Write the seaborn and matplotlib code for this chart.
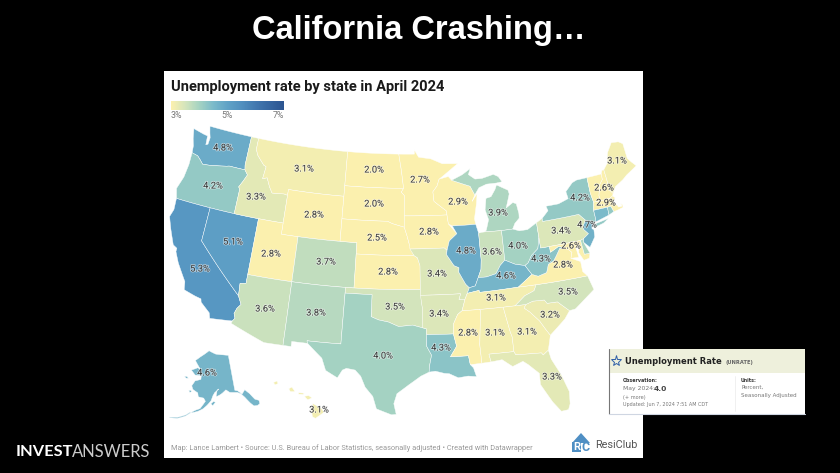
import numpy as np
import seaborn as sns
import matplotlib.pyplot as plt
import matplotlib.patheffects as pe
from matplotlib.patches import Rectangle

# --- values --------------------------------------------------------
states = ['WA', 'OR', 'CA', 'NV', 'ID', 'MT', 'WY', 'UT', 'AZ', 'CO', 'NM', 'ND', 'SD', 'NE', 'KS', 'OK', 'TX',
          'MN', 'IA', 'MO', 'AR', 'LA', 'WI', 'IL', 'MI', 'IN', 'OH', 'KY', 'TN', 'MS', 'AL', 'GA', 'FL', 'SC',
          'NC', 'VA', 'WV', 'PA', 'NY', 'NJ', 'MD', 'NH', 'MA', 'ME', 'AK', 'HI', 'VT', 'CT', 'RI', 'DE']
rates = [4.8, 4.2, 5.3, 5.1, 3.3, 3.1, 2.8, 2.8, 3.6, 3.7, 3.8, 2.0, 2.0, 2.5, 2.8, 3.5, 4.0,
         2.7, 2.8, 3.4, 3.4, 4.3, 2.9, 4.8, 3.9, 3.6, 4.0, 4.6, 3.1, 2.8, 3.1, 3.1, 3.3, 3.2,
         3.5, 2.8, 4.3, 3.4, 4.2, 4.7, 2.6, 2.6, 2.9, 3.1, 4.6, 3.1, 2.6, 4.5, 4.2, 3.9]
unlabelled = ['VT', 'CT', 'RI', 'DE']
legend_ticks = ['3%', '5%', '7%']

# state outlines, lon/lat
shapes = {
    'WA': [[(-124.7, 48.38), (-123.2, 48.15), (-122.7, 48.1), (-122.6, 47.3), (-122.35, 47.4), (-122.3, 48.0), (-122.5, 48.4), (-122.75, 49), (-117.03, 49), (-117.04, 46.42), (-116.92, 45.99), (-118.98, 46), (-119.3, 45.93), (-121.2, 45.65), (-122.3, 45.55), (-122.8, 45.9), (-123.2, 46.15), (-124, 46.27), (-124.1, 46.9), (-124.4, 47.5)]],
    'OR': [[(-124, 46.27), (-123.2, 46.15), (-122.8, 45.9), (-122.3, 45.55), (-121.2, 45.65), (-119.3, 45.93), (-118.98, 46), (-116.92, 45.99), (-116.47, 45.6), (-116.85, 44.95), (-117.22, 44.4), (-117.03, 44.2), (-117.03, 42), (-124.2, 42), (-124.55, 42.85), (-124.1, 44), (-123.95, 45.2)]],
    'CA': [[(-124.2, 42), (-120, 42), (-120, 39), (-114.6, 35), (-114.15, 34.3), (-114.5, 33.9), (-114.7, 33.4), (-114.5, 33), (-114.72, 32.72), (-117.12, 32.53), (-117.3, 33), (-118.4, 33.75), (-118.5, 34.03), (-119.2, 34.15), (-120.5, 34.45), (-120.65, 35.15), (-121.9, 36.6), (-122.5, 37.5), (-122.5, 37.8), (-123, 38), (-123.8, 39.3), (-124.35, 40.3), (-124.1, 41)]],
    'NV': [[(-120, 42), (-114.05, 42), (-114.05, 36.2), (-114.7, 36.1), (-114.6, 35), (-120, 39)]],
    'ID': [[(-117.03, 49), (-116.05, 49), (-116.05, 48), (-115.7, 47.5), (-114.7, 46.75), (-114.35, 46.65), (-114.5, 45.55), (-113.95, 45.7), (-113.45, 44.95), (-113, 44.45), (-111.5, 44.55), (-111.05, 44.48), (-111.05, 42), (-117.03, 42), (-117.03, 44.2), (-117.22, 44.4), (-116.85, 44.95), (-116.47, 45.6), (-116.92, 45.99), (-117.04, 46.42)]],
    'MT': [[(-116.05, 49), (-104.05, 49), (-104.05, 45), (-111.05, 45), (-111.05, 44.48), (-111.5, 44.55), (-113, 44.45), (-113.45, 44.95), (-113.95, 45.7), (-114.5, 45.55), (-114.35, 46.65), (-114.7, 46.75), (-115.7, 47.5), (-116.05, 48)]],
    'WY': [[(-111.05, 45), (-104.05, 45), (-104.05, 41), (-111.05, 41)]],
    'UT': [[(-114.05, 42), (-111.05, 42), (-111.05, 41), (-109.05, 41), (-109.05, 37), (-114.05, 37)]],
    'AZ': [[(-114.05, 37), (-109.05, 37), (-109.05, 31.33), (-111.07, 31.33), (-114.81, 32.5), (-114.72, 32.72), (-114.5, 33), (-114.7, 33.4), (-114.5, 33.9), (-114.15, 34.3), (-114.6, 35), (-114.7, 36.1), (-114.05, 36.2)]],
    'CO': [[(-109.05, 41), (-102.05, 41), (-102.05, 37), (-109.05, 37)]],
    'NM': [[(-109.05, 37), (-103, 37), (-103.05, 32), (-106.62, 32), (-106.53, 31.78), (-108.2, 31.78), (-108.2, 31.33), (-109.05, 31.33)]],
    'ND': [[(-104.05, 49), (-97.23, 49), (-96.85, 47.5), (-96.56, 45.94), (-104.05, 45.94)]],
    'SD': [[(-104.05, 45.94), (-96.56, 45.94), (-96.85, 45.6), (-96.45, 45.3), (-96.45, 42.5), (-97.9, 42.8), (-98.5, 43), (-104.05, 43)]],
    'NE': [[(-104.05, 43), (-98.5, 43), (-97.9, 42.8), (-96.45, 42.5), (-96.1, 41.7), (-95.85, 41), (-95.3, 40), (-102.05, 40), (-102.05, 41), (-104.05, 41)]],
    'KS': [[(-102.05, 40), (-95.3, 40), (-94.9, 39.8), (-94.6, 39.1), (-94.62, 37), (-102.05, 37)]],
    'OK': [[(-103, 37), (-94.62, 37), (-94.43, 35.4), (-94.48, 33.64), (-95.5, 33.88), (-97, 33.75), (-98.1, 34.13), (-99.2, 34.3), (-100, 34.56), (-100, 36.5), (-103, 36.5)]],
    'TX': [[(-103, 36.5), (-100, 36.5), (-100, 34.56), (-99.2, 34.3), (-98.1, 34.13), (-97, 33.75), (-95.5, 33.88), (-94.48, 33.64), (-94.04, 33.55), (-94.04, 32), (-93.55, 31.2), (-93.75, 30.4), (-93.85, 29.7), (-94.7, 29.35), (-95.9, 28.6), (-97.1, 27.8), (-97.4, 26.9), (-97.15, 25.95), (-97.6, 25.9), (-99.1, 26.4), (-99.5, 27.5), (-100.3, 28.3), (-100.8, 29.25), (-101.4, 29.77), (-102.3, 29.88), (-102.7, 29.7), (-103.15, 28.98), (-104.4, 29.55), (-104.9, 30.6), (-106.53, 31.78), (-106.62, 32), (-103.05, 32)]],
    'MN': [[(-97.23, 49), (-95.15, 49), (-95.15, 49.38), (-94.6, 48.72), (-93, 48.55), (-91.5, 48.07), (-89.5, 48), (-92, 46.7), (-92.3, 46.1), (-92.85, 45.6), (-92.75, 44.75), (-91.25, 43.85), (-91.22, 43.5), (-96.45, 43.5), (-96.45, 45.3), (-96.85, 45.6), (-96.56, 45.94), (-96.85, 47.5)]],
    'IA': [[(-96.45, 43.5), (-91.22, 43.5), (-91.1, 42.7), (-90.15, 41.8), (-91.1, 41.2), (-91.42, 40.38), (-91.73, 40.6), (-95.77, 40.58), (-95.85, 41), (-96.1, 41.7), (-96.45, 42.5)]],
    'MO': [[(-95.77, 40.58), (-91.73, 40.6), (-91.42, 40.38), (-91.5, 40), (-90.7, 39), (-90.15, 38.8), (-90.2, 38.4), (-89.5, 37.3), (-89.13, 36.98), (-89.4, 36.5), (-89.7, 36), (-90.37, 36), (-90.15, 36.5), (-94.62, 36.5), (-94.62, 39.1), (-94.9, 39.8), (-95.3, 40)]],
    'AR': [[(-94.62, 36.5), (-90.15, 36.5), (-90.37, 36), (-89.7, 36), (-90.1, 35), (-90.6, 34.7), (-91.1, 33.9), (-91.17, 33), (-94.04, 33.02), (-94.04, 33.55), (-94.48, 33.64), (-94.43, 35.4)]],
    'LA': [[(-94.04, 33.02), (-91.17, 33), (-90.9, 31.9), (-91.6, 31), (-89.73, 31), (-89.6, 30.2), (-89.3, 29.9), (-89.05, 29.1), (-89.9, 29.2), (-90.9, 29.1), (-91.8, 29.5), (-92.3, 29.55), (-93.2, 29.77), (-93.85, 29.7), (-93.75, 30.4), (-93.55, 31.2), (-94.04, 32)]],
    'WI': [[(-92, 46.7), (-90.8, 46.9), (-90.4, 46.55), (-88.1, 45.9), (-87.6, 45.1), (-88, 44.55), (-87.3, 45.2), (-87.5, 44.3), (-87.9, 43), (-87.8, 42.5), (-90.64, 42.5), (-91.1, 42.7), (-91.22, 43.5), (-91.25, 43.85), (-92.75, 44.75), (-92.85, 45.6), (-92.3, 46.1)]],
    'IL': [[(-90.64, 42.5), (-87.8, 42.5), (-87.55, 41.7), (-87.53, 39.35), (-87.65, 38.5), (-88.05, 37.8), (-88.45, 37.1), (-89.13, 36.98), (-89.5, 37.3), (-90.2, 38.4), (-90.15, 38.8), (-90.7, 39), (-91.5, 40), (-91.42, 40.38), (-91.1, 41.2), (-90.15, 41.8)]],
    'MI': [[(-86.8, 41.76), (-84.8, 41.72), (-83.45, 41.73), (-83.1, 42.2), (-82.5, 42.6), (-82.45, 43), (-82.6, 43.9), (-83, 44.05), (-83.9, 43.65), (-83.3, 44.85), (-83.4, 45.2), (-84.75, 45.78), (-85, 45.4), (-85.6, 44.8), (-86.25, 44.7), (-86.5, 43.7), (-86.2, 42.8), (-86.6, 41.9)],
           [(-90.4, 46.55), (-88.1, 45.9), (-87.6, 45.1), (-87, 45.7), (-86, 45.95), (-84.75, 45.95), (-84, 46), (-84.4, 46.5), (-85, 46.75), (-86.5, 46.5), (-87.4, 46.5), (-88.2, 46.95), (-87.9, 47.47), (-89, 46.98)]],
    'IN': [[(-87.55, 41.7), (-87.2, 41.75), (-86.8, 41.76), (-84.8, 41.72), (-84.82, 39.1), (-85.4, 38.7), (-86, 38), (-87.1, 37.8), (-88.05, 37.8), (-87.65, 38.5), (-87.53, 39.35)]],
    'OH': [[(-84.8, 41.72), (-83.45, 41.73), (-82.7, 41.5), (-81.7, 41.5), (-80.52, 41.98), (-80.52, 40.64), (-80.85, 39.7), (-81.7, 39.2), (-82.2, 38.6), (-82.6, 38.4), (-83.7, 38.63), (-84.82, 39.1)]],
    'KY': [[(-84.82, 39.1), (-83.7, 38.63), (-82.6, 38.4), (-81.97, 37.54), (-83.67, 36.6), (-88.05, 36.5), (-88.07, 36.68), (-89.4, 36.5), (-89.13, 36.98), (-88.45, 37.1), (-88.05, 37.8), (-87.1, 37.8), (-86, 38), (-85.4, 38.7)]],
    'TN': [[(-90.1, 35), (-89.7, 36), (-89.4, 36.5), (-88.07, 36.68), (-88.05, 36.5), (-83.67, 36.6), (-81.68, 36.59), (-82, 36.1), (-83.1, 35.77), (-84.3, 35)]],
    'MS': [[(-90.1, 35), (-88.2, 35), (-88.1, 34.9), (-88.47, 31.9), (-88.4, 30.25), (-89.6, 30.2), (-89.73, 31), (-91.6, 31), (-90.9, 31.9), (-91.17, 33), (-91.1, 33.9), (-90.6, 34.7)]],
    'AL': [[(-88.2, 35), (-85.6, 35), (-85.15, 32.8), (-85, 32.3), (-85, 31), (-87.6, 31), (-87.45, 30.3), (-88.4, 30.25), (-88.47, 31.9), (-88.1, 34.9)]],
    'GA': [[(-85.6, 35), (-83.1, 35), (-83.35, 34.7), (-82.8, 34.3), (-81.9, 33.4), (-81.4, 32.6), (-81, 32), (-81.45, 30.72), (-82.05, 30.36), (-82.2, 30.57), (-84.86, 30.7), (-85, 31), (-85, 32.3), (-85.15, 32.8)]],
    'FL': [[(-87.6, 31), (-85, 31), (-84.86, 30.7), (-82.2, 30.57), (-82.05, 30.36), (-81.45, 30.72), (-81.3, 29.9), (-80.55, 28.4), (-80.03, 26.8), (-80.15, 25.7), (-80.4, 25.2), (-81.1, 25.15), (-81.8, 26.1), (-82.75, 27.8), (-82.7, 28.8), (-83.7, 29.7), (-84.2, 30.05), (-85.3, 29.7), (-86.3, 30.4), (-87.45, 30.3)]],
    'SC': [[(-83.1, 35), (-82.3, 35.2), (-81.05, 35.15), (-80.8, 34.82), (-79.67, 34.8), (-78.55, 33.85), (-79.2, 33.2), (-80.4, 32.4), (-81, 32), (-81.4, 32.6), (-81.9, 33.4), (-82.8, 34.3), (-83.35, 34.7)]],
    'NC': [[(-84.3, 35), (-83.1, 35.77), (-82, 36.1), (-81.68, 36.59), (-75.87, 36.55), (-75.5, 35.25), (-76.5, 34.7), (-77.9, 33.9), (-78.55, 33.85), (-79.67, 34.8), (-80.8, 34.82), (-81.05, 35.15), (-82.3, 35.2), (-83.1, 35)]],
    'VA': [[(-83.67, 36.6), (-81.97, 37.54), (-81.3, 37.3), (-80.3, 37.5), (-79.95, 38.2), (-79.3, 38.4), (-78.9, 38.8), (-78.35, 39.4), (-77.75, 39.3), (-77.45, 39.2), (-77.05, 38.85), (-77.3, 38.35), (-76.3, 37.9), (-76.3, 37), (-75.87, 36.55), (-81.68, 36.59)]],
    'WV': [[(-82.6, 38.4), (-82.2, 38.6), (-81.7, 39.2), (-80.85, 39.7), (-80.52, 40.64), (-80.52, 39.72), (-79.48, 39.72), (-79.48, 39.2), (-78.4, 39.6), (-77.75, 39.3), (-78.35, 39.4), (-78.9, 38.8), (-79.3, 38.4), (-79.95, 38.2), (-80.3, 37.5), (-81.3, 37.3), (-81.97, 37.54)]],
    'PA': [[(-80.52, 41.98), (-79.76, 42.27), (-79.76, 42), (-75.35, 42), (-74.7, 41.36), (-75.1, 40.95), (-75.2, 40.65), (-74.72, 40.15), (-75.4, 39.82), (-75.8, 39.72), (-80.52, 39.72), (-80.52, 40.64)]],
    'NY': [[(-79.76, 42), (-79.76, 42.27), (-78.9, 42.85), (-79.05, 43.27), (-77.5, 43.27), (-76.2, 43.55), (-76.3, 44.2), (-75.3, 44.85), (-74.7, 45), (-73.35, 45), (-73.4, 43.6), (-73.27, 42.75), (-73.5, 42.05), (-73.5, 41.3), (-73.65, 41), (-73.9, 41), (-74.7, 41.36), (-75.35, 42)],
           [(-74, 40.6), (-73.75, 40.85), (-72.6, 40.98), (-72, 41.05), (-72.7, 40.75), (-73.9, 40.55)]],
    'NJ': [[(-74.7, 41.36), (-73.9, 41), (-74.2, 40.5), (-74, 40.4), (-74.1, 39.75), (-74.9, 38.95), (-75.5, 39.5), (-75.4, 39.82), (-74.72, 40.15), (-75.2, 40.65), (-75.1, 40.95)]],
    'MD': [[(-79.48, 39.72), (-75.8, 39.72), (-75.7, 38.46), (-75.05, 38.45), (-75.25, 38.03), (-75.9, 37.95), (-76.3, 38.7), (-76.1, 39.35), (-76.5, 39.15), (-76.4, 38.3), (-77.3, 38.35), (-77.05, 38.85), (-77.45, 39.2), (-77.75, 39.3), (-78.4, 39.6), (-79.48, 39.2)]],
    'NH': [[(-71.5, 45), (-71.3, 45.3), (-71.05, 45.3), (-70.98, 43.4), (-70.7, 43.07), (-70.85, 42.87), (-71.3, 42.7), (-72.46, 42.73), (-72.45, 43.2), (-72.05, 44.1), (-71.55, 44.5)]],
    'MA': [[(-73.5, 42.05), (-73.27, 42.75), (-71.3, 42.7), (-70.85, 42.87), (-70.6, 42.65), (-71, 42.3), (-70.6, 41.95), (-70.5, 41.78), (-70.05, 41.78), (-70.2, 42.07), (-69.95, 41.85), (-70, 41.65), (-70.65, 41.55), (-71.2, 41.5), (-71.38, 42.02), (-71.8, 42.02)]],
    'ME': [[(-71.05, 45.3), (-70.4, 45.8), (-70.25, 46.2), (-70, 46.7), (-69.2, 47.45), (-68.3, 47.35), (-67.8, 47.07), (-67.8, 45.7), (-67.45, 45.3), (-67, 44.85), (-68.5, 44.3), (-69.1, 44), (-70.2, 43.6), (-70.7, 43.07), (-70.98, 43.4)]],
    'VT': [[(-73.35, 45), (-71.5, 45), (-71.55, 44.5), (-72.05, 44.1), (-72.45, 43.2), (-72.46, 42.73), (-73.27, 42.75), (-73.4, 43.6)]],
    'CT': [[(-73.5, 42.05), (-71.8, 42.02), (-71.85, 41.32), (-73.65, 41), (-73.5, 41.3)]],
    'RI': [[(-71.8, 42.02), (-71.38, 42.02), (-71.2, 41.5), (-71.85, 41.32)]],
    'DE': [[(-75.8, 39.72), (-75.4, 39.82), (-75.5, 39.5), (-75.05, 38.45), (-75.7, 38.46)]],
    'AK': [[(-141, 69.65), (-141, 60.3), (-139.5, 60), (-137.5, 58.9), (-135.5, 59.8), (-133.5, 58.4), (-131.8, 56.6), (-130, 55.9), (-130.2, 55), (-131.5, 54.8), (-133.2, 55), (-134.5, 56), (-136.5, 57.9), (-138, 59), (-139.8, 59.6), (-144, 60), (-146, 60.8), (-148.3, 60), (-149.8, 59.6), (-151.8, 59.2), (-151, 61), (-150, 61.2), (-152.5, 60.3), (-153.5, 59.5), (-154.5, 58.2), (-156.5, 57), (-158.5, 56), (-161, 55.2), (-163.5, 54.7), (-165, 54.4), (-162, 55.5), (-160, 56), (-157.5, 58), (-158.5, 58.8), (-161.5, 59), (-162, 60), (-165, 60.7), (-166, 61.6), (-164.5, 63), (-161, 63.6), (-161, 64.6), (-165, 64.5), (-168, 65.6), (-164, 66.5), (-162, 66.2), (-166.5, 68.3), (-163, 69.5), (-156.5, 71.3), (-151, 70.4), (-145, 70)],
           [(-164.5, 54.8), (-166.5, 53.8), (-170, 52.7), (-173.5, 52.2), (-173.5, 52), (-170, 52.4), (-166.5, 53.5), (-164.5, 54.5)],
           [(-154.6, 57.4), (-153.2, 58), (-152.2, 57.8), (-153.6, 56.9)],
           [(-167.2, 60.2), (-166, 60.4), (-165.6, 60), (-166.5, 59.8)],
           [(-171.5, 63.5), (-170, 63.7), (-168.8, 63.3), (-170.3, 63.2)]],
    'HI': [[(-155.9, 20.25), (-155.1, 19.85), (-154.8, 19.5), (-155.65, 18.95), (-155.95, 19.1), (-156.05, 19.7)],
           [(-156.7, 20.9), (-156.3, 20.95), (-156, 20.75), (-156.4, 20.58), (-156.65, 20.8)],
           [(-157.3, 21.2), (-156.75, 21.17), (-156.85, 21.05), (-157.3, 21.08)],
           [(-158.25, 21.55), (-157.95, 21.7), (-157.65, 21.3), (-158.1, 21.3)],
           [(-159.75, 22.1), (-159.4, 22.23), (-159.3, 22), (-159.6, 21.9)]],
}

# where each value label sits on the slide, pixels
label_px = {
    'WA': (223, 148), 'OR': (213, 186), 'ID': (256, 197), 'MT': (304, 169), 'ND': (374, 170), 'SD': (374, 204),
    'WY': (314, 215), 'NE': (377, 238), 'NV': (233, 242), 'UT': (271, 254), 'CO': (326, 262), 'KS': (388, 272),
    'CA': (200, 269), 'AZ': (265, 309), 'NM': (316, 313), 'OK': (395, 307), 'TX': (383, 356), 'AK': (207, 373),
    'HI': (319, 410), 'MN': (420, 180), 'WI': (458, 202), 'IA': (429, 232), 'MI': (498, 213), 'IL': (466, 251),
    'IN': (492, 252), 'OH': (518, 246), 'PA': (561, 231), 'NY': (580, 198), 'NH': (604, 188), 'MA': (606, 203),
    'ME': (617, 161), 'NJ': (587, 225), 'MD': (571, 246), 'WV': (541, 259), 'VA': (563, 265), 'KY': (506, 276),
    'MO': (437, 274), 'TN': (496, 298), 'AR': (439, 314), 'NC': (568, 292), 'SC': (550, 315), 'GA': (527, 332),
    'AL': (495, 333), 'MS': (468, 333), 'LA': (441, 348), 'FL': (552, 377),
}

ramp = ['#fbf0ae', '#d3e4bc', '#a4d2c2', '#7bbaca', '#60a2c6', '#5290bf', '#4379b0', '#3767a1', '#2c5591']
cmap = sns.blend_palette(ramp, as_cmap=True)


def albers(lon, lat, p1, p2, lon0, lat0, sx, sy, x0, y0):
    n = (np.sin(np.radians(p1)) + np.sin(np.radians(p2))) / 2
    c = np.cos(np.radians(p1)) ** 2 + 2 * n * np.sin(np.radians(p1))
    rho = np.sqrt(c - 2 * n * np.sin(np.radians(lat))) / n
    rho0 = np.sqrt(c - 2 * n * np.sin(np.radians(lat0))) / n
    theta = np.radians(n * (lon - lon0))
    return x0 + sx * rho * np.sin(theta), y0 - sy * (rho0 - rho * np.cos(theta))


def project(state, lon, lat):
    if state == 'AK':
        return albers(lon, lat, 55, 65, -154, 50, 205, 219, 212, 432)
    if state == 'HI':
        return 317 + 10.25 * (lon + 155.5), 411 - 11.4 * (lat - 19.6)
    return albers(lon, lat, 29.5, 45.5, -96, 37.5, 647, 645, 408, 284)


def ring_to_px(state, ring):
    # split the long edges so the parallels bend with the projection
    pts = np.array(ring + ring[:1], dtype=float)
    lons, lats = [], []
    for a, b in zip(pts[:-1], pts[1:]):
        lons.extend(np.linspace(a[0], b[0], 10)[:-1])
        lats.extend(np.linspace(a[1], b[1], 10)[:-1])
    return project(state, np.array(lons), np.array(lats))


sns.set_theme(style='white')
plt.rcParams['font.family'] = ['Roboto', 'DejaVu Sans']

fig = plt.figure(figsize=(8.4, 4.73), dpi=100, facecolor='black')
ax = fig.add_axes([0, 0, 1, 1])
ax.set_xlim(0, 840)
ax.set_ylim(473, 0)
ax.axis('off')

# white card behind the map
ax.add_patch(Rectangle((164, 71), 479, 387, fc='white', ec='none', zorder=0))

for state, rate in zip(states, rates):
    colour = cmap(np.clip((rate - 3) / 4, 0, 1))
    for ring in shapes[state]:
        xs, ys = ring_to_px(state, ring)
        ax.fill(xs, ys, fc=colour, ec='white', lw=0.3, zorder=2)

halo = [pe.withStroke(linewidth=1.2, foreground='white', alpha=0.5)]
for state, rate in zip(states, rates):
    if state in unlabelled:
        continue
    x, y = label_px[state]
    ax.text(x, y, f'{rate:.1f}%', ha='center', va='center', fontsize=6.7, color='#3a3a3a',
            path_effects=halo, zorder=5)

# slide and chart titles
ax.text(419, 31, 'California Crashing…', ha='center', va='center', color='white', fontsize=23.5,
        fontweight='bold', family=['Liberation Sans', 'DejaVu Sans'])
ax.text(171, 86.5, 'Unemployment rate by state in April 2024', ha='left', va='center', color='#1a1a1a',
        fontsize=10.5, fontweight='bold')

# colour legend
cax = fig.add_axes([171 / 840, 1 - 110 / 473, 113 / 840, 9 / 473])
sns.heatmap(np.linspace(3, 7, 113).reshape(1, -1), ax=cax, cmap=cmap, vmin=3, vmax=7, cbar=False,
            xticklabels=False, yticklabels=False)
for label, x, ha in zip(legend_ticks, [171, 227.5, 284], ['left', 'center', 'right']):
    ax.text(x, 115.5, label, ha=ha, va='center', fontsize=6.3, color='#777777')

ax.text(171, 448, 'Map: Lance Lambert • Source: U.S. Bureau of Labor Statistics, seasonally adjusted • '
        'Created with Datawrapper', ha='left', va='center', fontsize=5.35, color='#999999')

# ResiClub logo
ax.fill([572, 581, 590], [443, 433, 443], fc='#4f8fc4', ec='none', zorder=3)
ax.add_patch(Rectangle((572, 442), 9, 10, fc='#4f8fc4', ec='none', zorder=3))
ax.text(576.5, 447, 'R', ha='center', va='center', fontsize=8, fontweight='bold', color='white', zorder=4)
ax.text(585.5, 447, 'C', ha='center', va='center', fontsize=9, fontweight='bold', color='#4f8fc4', zorder=4)
ax.text(595, 445, 'ResiClub', ha='left', va='center', fontsize=7.8, color='#555555')

# InvestAnswers wordmark
ax.text(16, 452, 'INVEST', ha='left', va='center', color='white', fontsize=11.8, fontweight='bold', family='Lato')
ax.text(72, 452, 'ANSWERS', ha='left', va='center', color='white', fontsize=11.9, fontweight='normal', family='Lato',
        alpha=0.8)

# FRED card pasted on the slide
ax.add_patch(Rectangle((609, 349), 196, 65, fc='white', ec='none', zorder=6))
ax.add_patch(Rectangle((609, 349), 196, 24, fc='#eef0dc', ec='none', zorder=6))
ax.plot([609, 609], [349, 414], color='#777777', lw=0.8, zorder=7)
ax.plot([609, 805], [414, 414], color='#cfd6e2', lw=0.8, zorder=7)
ax.plot([735, 735], [376, 411], color='#eeeeee', lw=0.6, zorder=7)
ax.plot([616], [361], marker='*', ms=8, mfc='none', mec='#2f5fa8', mew=0.7, zorder=7)

card = dict(ha='left', va='center', zorder=8, family='DejaVu Sans')
ax.text(625, 361, 'Unemployment Rate', fontsize=6.05, fontweight='bold', color='#222222', **card)
ax.text(726, 362, '(UNRATE)', fontsize=3.7, fontweight='bold', color='#666666', **card)
ax.text(623, 380, 'Observation:', fontsize=3.4, fontweight='bold', color='#333333', **card)
ax.text(623, 388.5, 'May 2024:', fontsize=4.4, color='#777777', **card)
ax.text(654, 388.5, '4.0', fontsize=5.4, fontweight='bold', color='#444444', **card)
ax.text(623, 397, '(+ more)', fontsize=3.6, color='#777777', **card)
ax.text(623, 404.5, 'Updated: Jun 7, 2024 7:51 AM CDT', fontsize=3.55, color='#777777', **card)
ax.text(741, 380, 'Units:', fontsize=3.4, fontweight='bold', color='#333333', **card)
ax.text(741, 387.5, 'Percent,', fontsize=4, color='#777777', **card)
ax.text(741, 395.5, 'Seasonally Adjusted', fontsize=4, color='#777777', **card)

fig.savefig('out.png', dpi=100, facecolor='black')
